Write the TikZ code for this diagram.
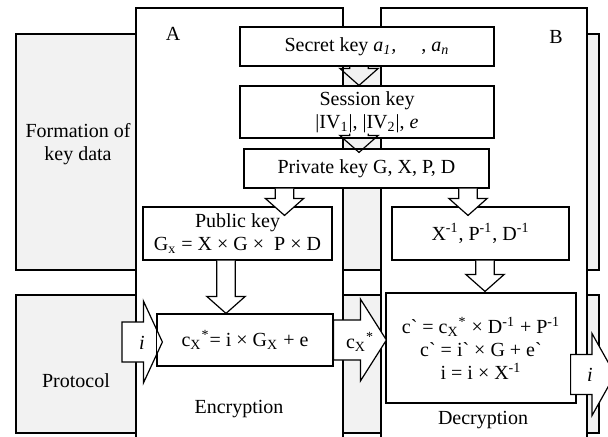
\documentclass[tikz,border=0pt]{standalone}
\usepackage{fontspec}
\setmainfont{Liberation Serif}
\usetikzlibrary{calc}
\definecolor{bandgray}{RGB}{242,242,242}
% vertical (downward) block arrow: #2 start, #3 tip
\newcommand\vblk[3][]{\draw[#1] let \p1=(#2), \p2=(#3) in
  (\x1-4.6pt,\y1) -- (\x1-4.6pt,\y2+8.5pt) -- (\x1-9.6pt,\y2+8.5pt) -- (\x2,\y2)
  -- (\x1+9.6pt,\y2+8.5pt) -- (\x1+4.6pt,\y2+8.5pt) -- (\x1+4.6pt,\y1);}
% horizontal (rightward) block arrow: #2 start, #3 tip, #4 head length
\newcommand\hblk[4][]{\draw[#1] let \p1=(#2), \p2=(#3) in
  (\x1,\y1+10pt) -- (\x2-#4,\y1+10pt) -- (\x2-#4,\y1+20.5pt) -- (\x2,\y2)
  -- (\x2-#4,\y1-20.5pt) -- (\x2-#4,\y1-10pt) -- (\x1,\y1-10pt) -- cycle;}
\begin{document}
\begin{tikzpicture}[x=0.5pt,y=-0.5pt,line width=0.6pt,
  txt/.style={font=\fontsize{10}{11.5}\selectfont,inner sep=0pt,align=center},
  kbox/.style={draw,fill=white,inner sep=0pt,align=center,font=\fontsize{10}{11.5}\selectfont},
  band/.style={draw,fill=bandgray},
  panel/.style={draw,fill=white},
  blkw/.style={fill=white},
  blkn/.style={}]
\useasboundingbox (0,0) rectangle (608,436);
% background bands
\draw[band] (16,34) rectangle (599,270);
\draw[band] (16,295) rectangle (599,433);
% panels A and B
\draw[panel] (136,8) rectangle (343,450);
\draw[panel] (381,8) rectangle (587,450);
% labels
\node[txt] (lA) at (173,34) {A};
\node[txt] (lB) at (556,37) {B};
\node[txt] (lform) at (78,144) {Formation of\\key data};
\node[txt] (lprot) at (76,381) {Protocol};
\node[txt] (lenc) at (239,409) {Encryption};
\node[txt] (ldec) at (483,420) {Decryption};
% key boxes
\node[kbox,minimum width=127pt,minimum height=19.5pt] (sec) at (367,46.5)
  {Secret key \textit{a}\textsubscript{\textit{1}}\textit{,}\quad\ , \textit{a}\textsubscript{\textit{n}}};
\node[kbox,minimum width=127pt,minimum height=26pt] (ses) at (367,112)
  {Session key\\|IV\textsubscript{1}|, |IV\textsubscript{2}|, \textit{e}};
\node[kbox,minimum width=122.5pt,minimum height=19.5pt] (priv) at (366.5,168.5)
  {Private key G, X, P, D};
\node[kbox,minimum width=94.5pt,minimum height=26.5pt] (pub) at (237.5,233.5)
  {Public key\\G\textsubscript{x} = X × G × \ P × D};
\node[kbox,minimum width=88.5pt,minimum height=26.5pt] (inv) at (480.5,233.5)
  {X\textsuperscript{-1}, P\textsuperscript{-1}, D\textsuperscript{-1}};
\node[kbox,minimum width=88pt,minimum height=26pt] (enc) at (245,340)
  {c\textsubscript{X}\textsuperscript{*}= i × G\textsubscript{X} + e};
\node[kbox,minimum width=95pt,minimum height=55pt] (dec) at (481,348)
  {c\textasciigrave{} = c\textsubscript{X}\textsuperscript{*} × D\textsuperscript{-1} + P\textsuperscript{-1}\\
   c\textasciigrave{} = i\textasciigrave{} × G + e\textasciigrave{}\\
   i = i × X\textsuperscript{-1}};
% connector end points
\coordinate (a1s) at ($(sec.south)+(-8,0)$);
\coordinate (a1e) at ($(ses.north)+(-8,0)$);
\coordinate (a2s) at ($(ses.south)+(-8,-5)$);
\coordinate (a2e) at ($(priv.north)+(-7.5,4)$);
\coordinate (a3s) at ($(priv.south)+(-82,0)$);
\coordinate (a3e) at ($(pub.north)+(47,9)$);
\coordinate (a4s) at ($(priv.south)+(101.5,0)$);
\coordinate (a4e) at ($(inv.north)+(-12.5,9)$);
\coordinate (a5s) at ($(pub.south)+(-11.5,0)$);
\coordinate (a5e) at ($(enc.north)+(-19,0)$);
\coordinate (a6s) at ($(inv.south)+(4.5,0)$);
\coordinate (a6e) at ($(dec.north)+(4,-1)$);
\coordinate (inS) at (122,342);
\coordinate (inE) at ($(enc.west)+(6,2)$);
\coordinate (cxS) at (enc.east);
\coordinate (cxE) at ($(dec.west)+(1,-8)$);
\coordinate (outS) at ($(dec.east)+(-6,26.5)$);
\coordinate (outE) at (615,374.5);
% block arrows
\vblk[blkn]{a1s}{a1e}
\vblk[blkn]{a2s}{a2e}
\vblk[blkw]{a3s}{a3e}
\vblk[blkw]{a4s}{a4e}
\vblk[blkw]{a5s}{a5e}
\vblk[blkw]{a6s}{a6e}
\hblk[blkw]{inS}{inE}{9.5pt}
\draw (enc.south west) rectangle (enc.north east);
\hblk[blkw]{cxS}{cxE}{13pt}
\hblk[blkw]{outS}{outE}{11.5pt}
% arrow labels
\node[txt] (li) at (142,343) {\textit{i}};
\node[txt] (lcx) at (360,342) {c\textsubscript{X}\textsuperscript{*}};
\node[txt] (lo) at (590,375) {\textit{i}};
\end{tikzpicture}
\end{document}
